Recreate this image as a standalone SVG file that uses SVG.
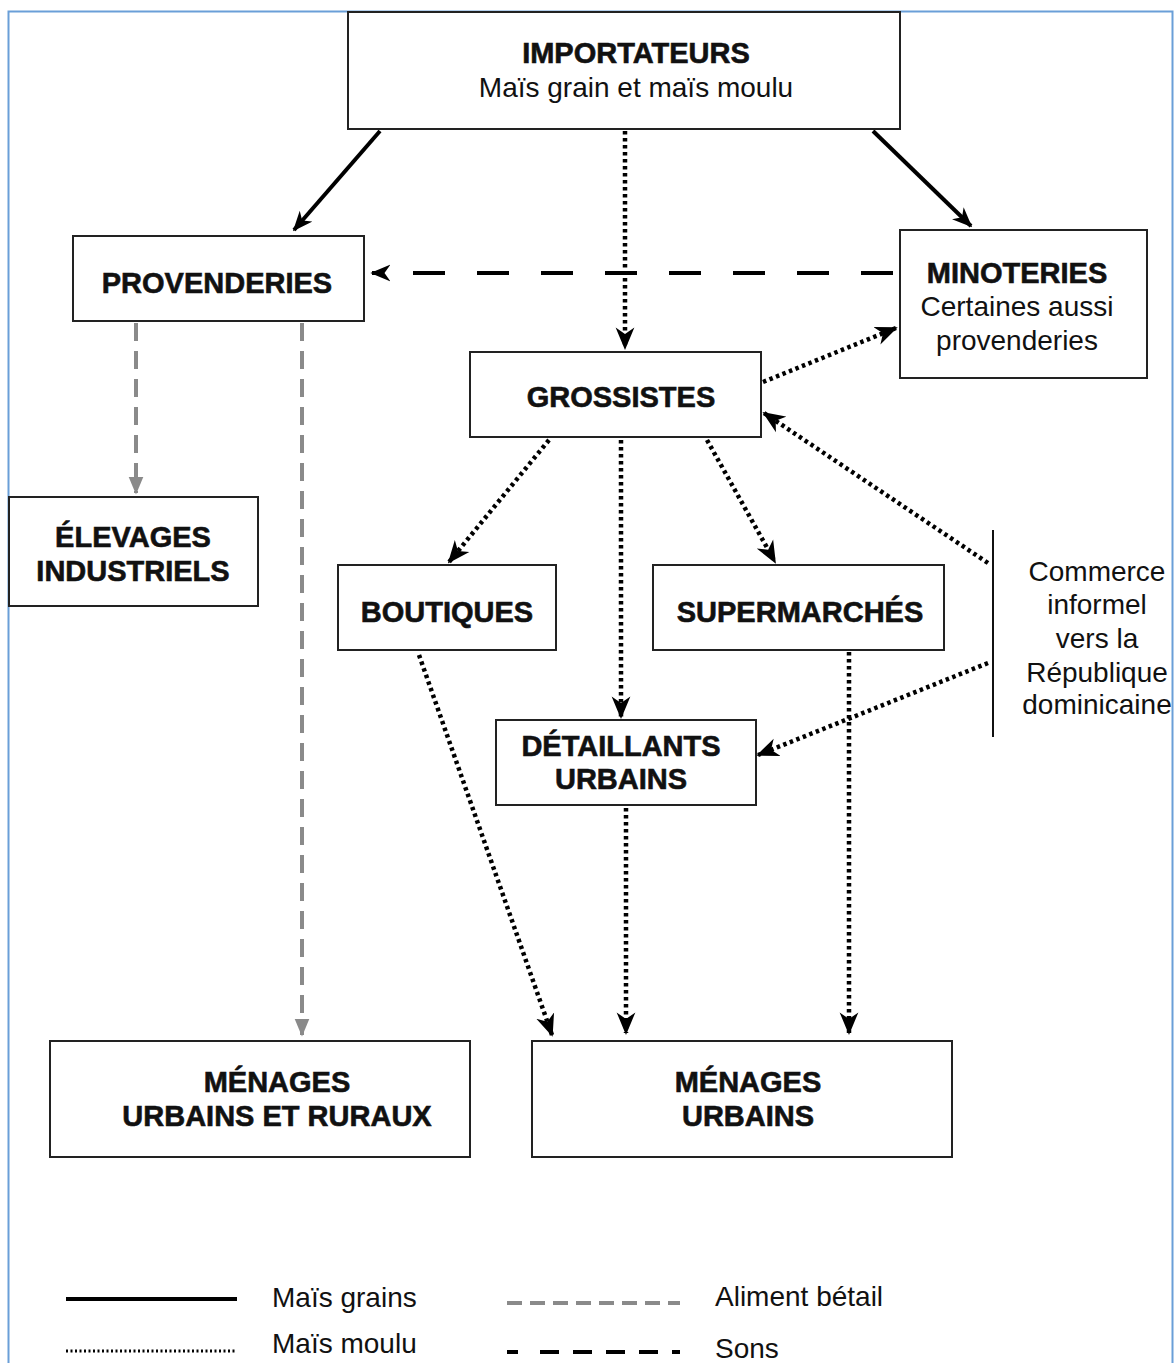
<svg xmlns="http://www.w3.org/2000/svg" width="1174" height="1363" viewBox="0 0 1174 1363">
  <style>
    .box { fill: #fff; stroke: #222; stroke-width: 2; }
    .t { font-family: "Liberation Sans", Arial, sans-serif; fill: #111; text-anchor: middle; }
    .b { font-weight: bold; font-size: 29px; stroke: #111; stroke-width: 0.6; }
    .r { font-size: 28px; }
    .solid { stroke: #000; stroke-width: 4; fill: none; }
    .dot { stroke: #000; stroke-width: 4.5; stroke-dasharray: 3.5 3.5; fill: none; }
    .dash { stroke: #000; stroke-width: 4; stroke-dasharray: 32 32; fill: none; }
    .gray { stroke: #8a8a8a; stroke-width: 4; stroke-dasharray: 18 10; fill: none; }
    .lg { font-family: "Liberation Sans", Arial, sans-serif; font-size: 28px; fill: #111; }
  </style>
  <defs>
    <marker id="ah" viewBox="0 0 12 10" refX="11" refY="5" markerWidth="5" markerHeight="4.5" markerUnits="strokeWidth" orient="auto">
      <path d="M0,0 L12,5 L0,10 L3.5,5 z" fill="#000"/>
    </marker>
    <marker id="ahs" viewBox="0 0 12 10" refX="11" refY="5" markerWidth="5" markerHeight="4.5" markerUnits="strokeWidth" orient="auto">
      <path d="M0,0 L12,5 L0,10 L3.5,5 z" fill="#000"/>
    </marker>
    <marker id="ahg" viewBox="0 0 12 10" refX="11" refY="5" markerWidth="4.5" markerHeight="4.5" markerUnits="strokeWidth" orient="auto">
      <path d="M0,0 L12,5 L0,10 z" fill="#8a8a8a"/>
    </marker>
  </defs>

  <rect x="0" y="0" width="1174" height="1363" fill="#fff"/>
  <!-- frame -->
  <path d="M8.5,1363 V11.5 H1172.5 V1363" fill="none" stroke="#6a9fd8" stroke-width="2"/>

  <!-- connectors -->
  <g id="connectors">
    <line class="solid" x1="380" y1="131" x2="294" y2="230" marker-end="url(#ahs)"/>
    <line class="solid" x1="873" y1="131" x2="971" y2="226" marker-end="url(#ahs)"/>
    <line class="dash" x1="893" y1="273" x2="372" y2="273" marker-end="url(#ahs)"/>
    <line class="dot" x1="625" y1="131" x2="625" y2="348" marker-end="url(#ah)"/>
    <line class="dot" x1="763" y1="382" x2="896" y2="328" marker-end="url(#ah)"/>
    <line class="gray" x1="136" y1="323" x2="136" y2="493" marker-end="url(#ahg)"/>
    <line class="gray" x1="302" y1="323" x2="302" y2="1035" marker-end="url(#ahg)"/>
    <line class="dot" x1="549" y1="440" x2="449" y2="562" marker-end="url(#ah)"/>
    <line class="dot" x1="621" y1="440" x2="621" y2="717" marker-end="url(#ah)"/>
    <line class="dot" x1="707" y1="440" x2="775" y2="562" marker-end="url(#ah)"/>
    <line class="dot" x1="988" y1="563" x2="764" y2="413" marker-end="url(#ah)"/>
    <line class="dot" x1="988" y1="663" x2="758" y2="755" marker-end="url(#ah)"/>
    <line class="dot" x1="419" y1="655" x2="552" y2="1035" marker-end="url(#ah)"/>
    <line class="dot" x1="626" y1="808" x2="626" y2="1033" marker-end="url(#ah)"/>
    <line class="dot" x1="849" y1="652" x2="849" y2="1033" marker-end="url(#ah)"/>
  </g>

  <!-- nodes -->
  <g id="importateurs">
    <rect class="box" x="348" y="12" width="552" height="117"/>
    <text class="t b" x="636" y="63">IMPORTATEURS</text>
    <text class="t r" x="636" y="97">Maïs grain et maïs moulu</text>
  </g>
  <g id="provenderies">
    <rect class="box" x="73" y="236" width="291" height="85"/>
    <text class="t b" x="217" y="293">PROVENDERIES</text>
  </g>
  <g id="minoteries">
    <rect class="box" x="900" y="230" width="247" height="148"/>
    <text class="t b" x="1017" y="283">MINOTERIES</text>
    <text class="t r" x="1017" y="316">Certaines aussi</text>
    <text class="t r" x="1017" y="350">provenderies</text>
  </g>
  <g id="grossistes">
    <rect class="box" x="470" y="352" width="291" height="85"/>
    <text class="t b" x="621" y="407">GROSSISTES</text>
  </g>
  <g id="elevages">
    <rect class="box" x="9" y="497" width="249" height="109"/>
    <text class="t b" x="133" y="547">ÉLEVAGES</text>
    <text class="t b" x="133" y="581">INDUSTRIELS</text>
  </g>
  <g id="boutiques">
    <rect class="box" x="338" y="565" width="218" height="85"/>
    <text class="t b" x="447" y="622">BOUTIQUES</text>
  </g>
  <g id="supermarches">
    <rect class="box" x="653" y="565" width="291" height="85"/>
    <text class="t b" x="800" y="622">SUPERMARCHÉS</text>
  </g>
  <g id="detaillants">
    <rect class="box" x="496" y="720" width="260" height="85"/>
    <text class="t b" x="621" y="756">DÉTAILLANTS</text>
    <text class="t b" x="621" y="789">URBAINS</text>
  </g>
  <g id="menages-ur">
    <rect class="box" x="50" y="1041" width="420" height="116"/>
    <text class="t b" x="277" y="1092">MÉNAGES</text>
    <text class="t b" x="277" y="1126">URBAINS ET RURAUX</text>
  </g>
  <g id="menages-u">
    <rect class="box" x="532" y="1041" width="420" height="116"/>
    <text class="t b" x="748" y="1092">MÉNAGES</text>
    <text class="t b" x="748" y="1126">URBAINS</text>
  </g>
  <g id="commerce-informel">
    <line x1="993" y1="530" x2="993" y2="737" stroke="#111" stroke-width="2"/>
    <text class="t r" x="1097" y="581">Commerce</text>
    <text class="t r" x="1097" y="614">informel</text>
    <text class="t r" x="1097" y="648">vers la</text>
    <text class="t r" x="1097" y="682">République</text>
    <text class="t r" x="1097" y="714">dominicaine</text>
  </g>

  <!-- legend -->
  <g id="legend">
    <line x1="66" y1="1299" x2="237" y2="1299" stroke="#000" stroke-width="4"/>
    <text class="lg" x="272" y="1307">Maïs grains</text>
    <line x1="66" y1="1351" x2="237" y2="1351" stroke="#000" stroke-width="3" stroke-dasharray="2 2.5"/>
    <text class="lg" x="272" y="1353">Maïs moulu</text>
    <line x1="507" y1="1303" x2="680" y2="1303" stroke="#8a8a8a" stroke-width="4" stroke-dasharray="15 8"/>
    <text class="lg" x="715" y="1306">Aliment bétail</text>
    <line x1="507" y1="1352" x2="680" y2="1352" stroke="#000" stroke-width="4" stroke-dasharray="11 22 19 14 19 14 19 14 19 14 19 14"/>
    <text class="lg" x="715" y="1358">Sons</text>
  </g>
</svg>
